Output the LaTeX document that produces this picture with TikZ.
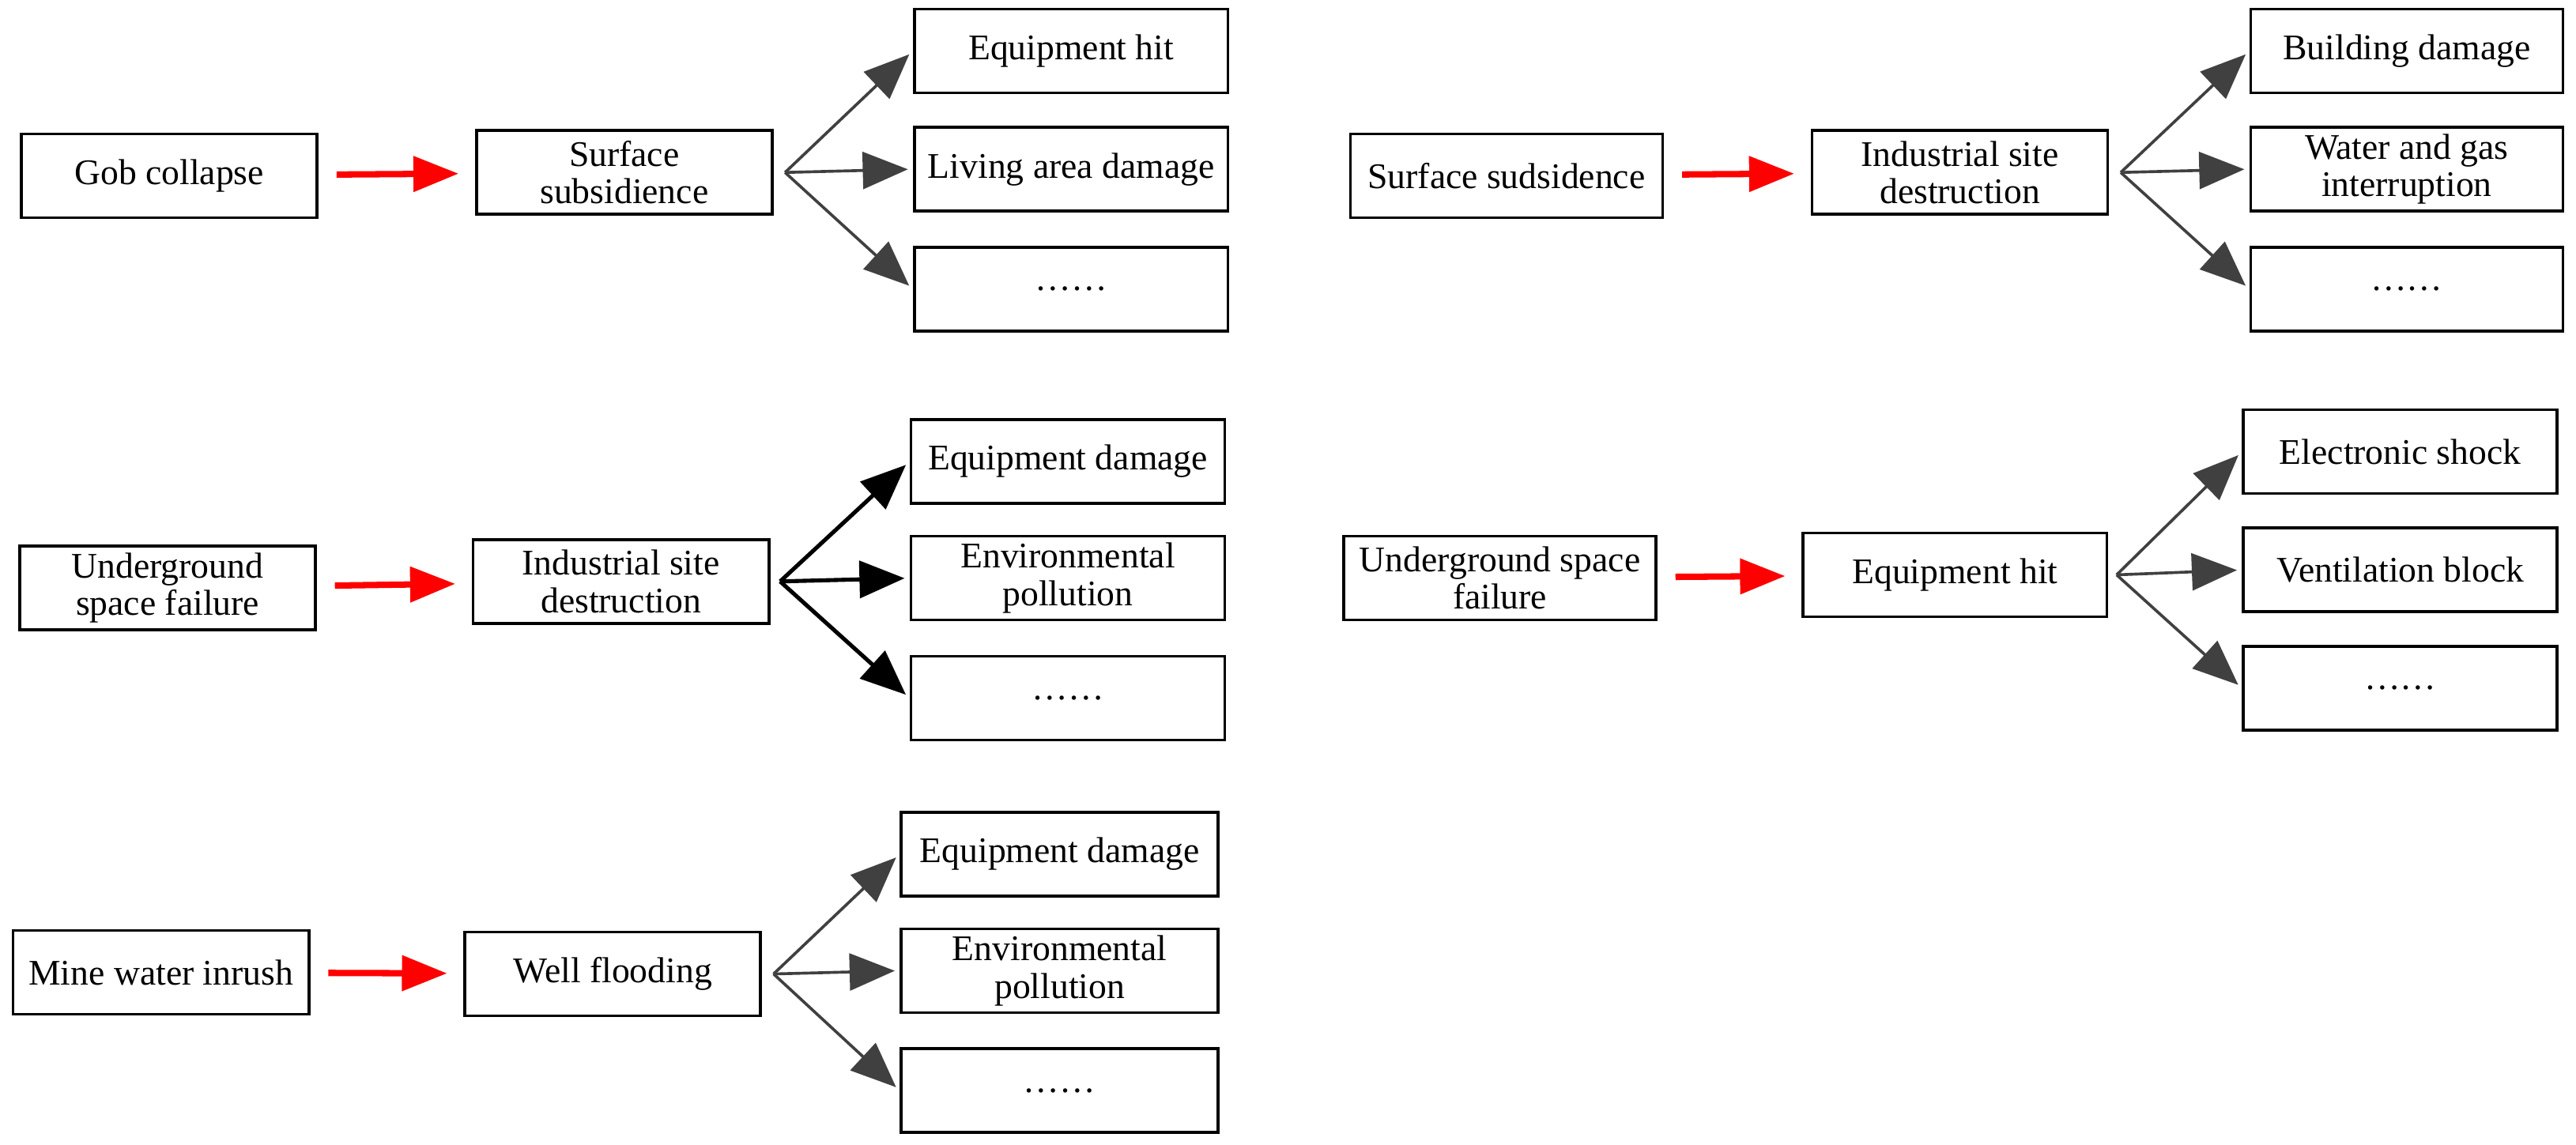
\documentclass[tikz,border=0pt]{standalone}
\usepackage{fontspec}
\setmainfont{Liberation Serif}
\usetikzlibrary{arrows.meta,positioning}
\begin{document}
\begin{tikzpicture}[x=0.02cm,y=-0.02cm]
    \tikzstyle{box}=[draw=black, line width=1pt, minimum width=3.6cm, minimum height=1.02cm, align=center, font=\fontsize{12.5}{13}\selectfont, inner sep=1pt]
    \tikzstyle{red}=[draw=red, line width=2.2pt, -{Triangle[length=0.55cm,width=0.42cm]}, shorten <=0.22cm, shorten >=0.2cm]
    \tikzstyle{fan}=[draw=black!75, line width=1pt, -{Triangle[length=0.55cm,width=0.45cm]}, shorten >=0.06cm]
    \tikzstyle{fanb}=[draw=black, line width=1.4pt, -{Triangle[length=0.55cm,width=0.45cm]}, shorten >=0.06cm]
    \useasboundingbox (0,0) rectangle (1568,697);
    % group 1
    \node[box] (gob) at (103,107) {Gob collapse};
    \node[box] (sub1) at (380,105) {Surface\\subsidience};
    \node[box,minimum width=3.82cm] (hit1) at (652,31) {Equipment hit};
    \node[box,minimum width=3.82cm] (live) at (652,103) {Living area damage};
    \node[box,minimum width=3.82cm] (dot1) at (652,176) {\dots\dots};
    \draw[red] (gob) -- (sub1);
    \draw[fan] ([xshift=0.14cm]sub1.east) -- (hit1.west);
    \draw[fan] ([xshift=0.14cm]sub1.east) -- (live.west);
    \draw[fan] ([xshift=0.14cm]sub1.east) -- (dot1.west);
    % group 2
    \node[box] (ugf1) at (102,358) {Underground\\space failure};
    \node[box] (isd1) at (378,354) {Industrial site\\destruction};
    \node[box,minimum width=3.82cm] (dam1) at (650,281) {Equipment damage};
    \node[box,minimum width=3.82cm] (env1) at (650,352) {Environmental\\pollution};
    \node[box,minimum width=3.82cm] (dot2) at (650,425) {\dots\dots};
    \draw[red] (ugf1) -- (isd1);
    \draw[fanb] ([xshift=0.12cm]isd1.east) -- (dam1.west);
    \draw[fanb] ([xshift=0.12cm]isd1.east) -- (env1.west);
    \draw[fanb] ([xshift=0.12cm]isd1.east) -- (dot2.west);
    % group 3
    \node[box] (mwi) at (98,592) {Mine water inrush};
    \node[box] (well) at (373,593) {Well flooding};
    \node[box,minimum width=3.86cm] (dam2) at (645,520) {Equipment damage};
    \node[box,minimum width=3.86cm] (env2) at (645,591) {Environmental\\pollution};
    \node[box,minimum width=3.86cm] (dot3) at (645,664) {\dots\dots};
    \draw[red] (mwi) -- (well);
    \draw[fan] ([xshift=0.14cm]well.east) -- (dam2.west);
    \draw[fan] ([xshift=0.14cm]well.east) -- (env2.west);
    \draw[fan] ([xshift=0.14cm]well.east) -- (dot3.west);
    % group 4
    \node[box,minimum width=3.8cm] (sub2) at (917,107) {Surface sudsidence};
    \node[box] (isd2) at (1193,105) {Industrial site\\destruction};
    \node[box,minimum width=3.8cm] (bld) at (1465,31) {Building damage};
    \node[box,minimum width=3.8cm] (wgi) at (1465,103) {Water and gas\\interruption};
    \node[box,minimum width=3.8cm] (dot4) at (1465,176) {\dots\dots};
    \draw[red] (sub2) -- (isd2);
    \draw[fan] ([xshift=0.14cm]isd2.east) -- (bld.west);
    \draw[fan] ([xshift=0.14cm]isd2.east) -- (wgi.west);
    \draw[fan] ([xshift=0.14cm]isd2.east) -- (dot4.west);
    % group 5
    \node[box,minimum width=3.8cm] (ugf2) at (913,352) {Underground space\\failure};
    \node[box,minimum width=3.7cm] (hit2) at (1190,350) {Equipment hit};
    \node[box,minimum width=3.82cm] (shk) at (1461,275) {Electronic shock};
    \node[box,minimum width=3.82cm] (vent) at (1461,347) {Ventilation block};
    \node[box,minimum width=3.82cm] (dot5) at (1461,419) {\dots\dots};
    \draw[red] (ugf2) -- (hit2);
    \draw[fan] ([xshift=0.1cm]hit2.east) -- (shk.west);
    \draw[fan] ([xshift=0.1cm]hit2.east) -- (vent.west);
    \draw[fan] ([xshift=0.1cm]hit2.east) -- (dot5.west);
\end{tikzpicture}
\end{document}
